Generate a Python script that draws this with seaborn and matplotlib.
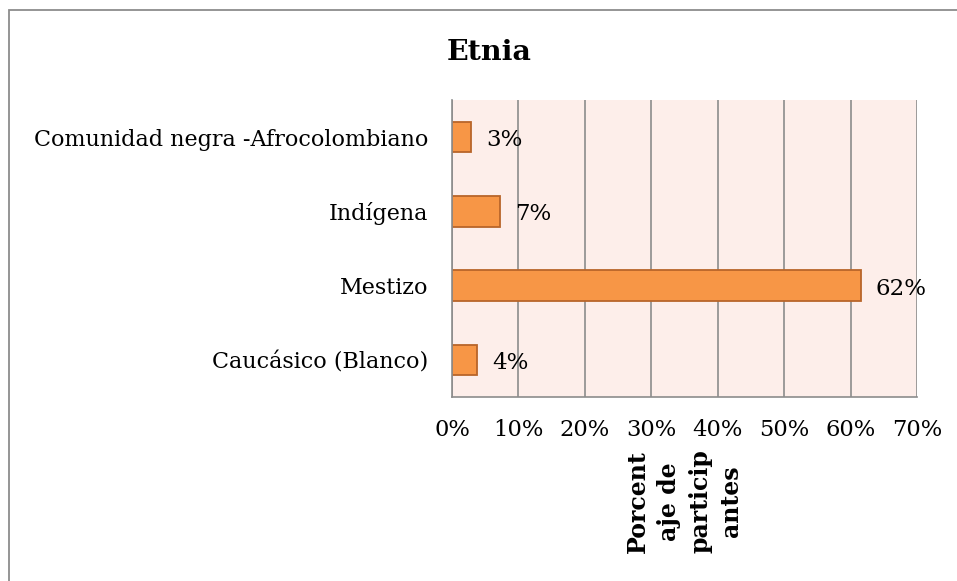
#!/usr/bin/env python3
"""Horizontal bar chart: participant ethnicity (Etnia)."""

import matplotlib

matplotlib.use("Agg")
import matplotlib.pyplot as plt
import pandas as pd
import seaborn as sns
from matplotlib.patches import Rectangle

CATEGORIES = [
    "Comunidad negra -Afrocolombiano",
    "Indígena",
    "Mestizo",
    "Caucásico (Blanco)",
]
VALUES = [2.9, 7.2, 61.5, 3.8]
LABELS = ["3%", "7%", "62%", "4%"]
X_TICKS = [0, 10, 20, 30, 40, 50, 60, 70]

BAR_COLOR = "#F79646"
EDGE_COLOR = "#B8652A"
PLOT_BG = "#FDEEEA"
GRID_COLOR = "#8C8C8C"
FONT = ["DejaVu Serif"]


def main() -> None:
    sns.set_theme(style="white")
    plt.rcParams["font.family"] = FONT

    df = pd.DataFrame({"category": CATEGORIES, "value": VALUES})

    fig = plt.figure(figsize=(9.57, 5.81), dpi=100)
    ax = fig.add_axes([452 / 957, 1 - 397 / 581, 465 / 957, 297 / 581])
    ax.set_facecolor(PLOT_BG)

    sns.barplot(
        data=df,
        x="value",
        y="category",
        order=CATEGORIES,
        color=BAR_COLOR,
        edgecolor=EDGE_COLOR,
        linewidth=1.3,
        width=0.41,
        saturation=1,
        ax=ax,
    )

    for patch, label in zip(ax.patches, LABELS):
        y = patch.get_y() + patch.get_height() / 2
        ax.text(
            patch.get_width() + 2.3,
            y + 0.04,
            label,
            va="center",
            ha="left",
            fontsize=16.5,
            color="black",
        )

    ax.set_xlim(0, 70)
    ax.set_ylim(3.5, -0.5)
    ax.set_xticks(X_TICKS)
    ax.set_xticklabels([f"{t}%" for t in X_TICKS], fontsize=16.3, color="black")
    ax.tick_params(axis="y", labelsize=16, length=0, pad=17, labelcolor="black")
    ax.tick_params(axis="x", length=5, color=GRID_COLOR, direction="out", pad=11, width=1.2)
    ax.xaxis.grid(True, color=GRID_COLOR, linewidth=1.2)
    ax.set_axisbelow(True)
    for side in ["top", "right"]:
        ax.spines[side].set_visible(False)
    ax.spines["left"].set_color(GRID_COLOR)
    ax.spines["left"].set_linewidth(1.2)
    ax.spines["bottom"].set_color(GRID_COLOR)
    ax.spines["bottom"].set_linewidth(1.2)
    ax.set_ylabel("")

    ax.set_xlabel(
        "Porcent\naje de\nparticip\nantes",
        rotation=90,
        fontsize=17,
        fontweight="bold",
        color="black",
        linespacing=1.38,
        labelpad=6,
    )
    ax.xaxis.label.set_horizontalalignment("center")

    fig.text(
        489 / 957,
        1 - 52 / 581,
        "Etnia",
        ha="center",
        va="center",
        fontsize=20.5,
        fontweight="bold",
        color="black",
    )

    fig.patches.append(
        Rectangle(
            (9 / 957, -0.1),
            1.2,
            1.1 - 10 / 581,
            transform=fig.transFigure,
            fill=False,
            edgecolor="#8C8C8C",
            linewidth=1.3,
        )
    )

    fig.savefig("out.png", dpi=100, facecolor="white")
    plt.close(fig)


if __name__ == "__main__":
    main()
